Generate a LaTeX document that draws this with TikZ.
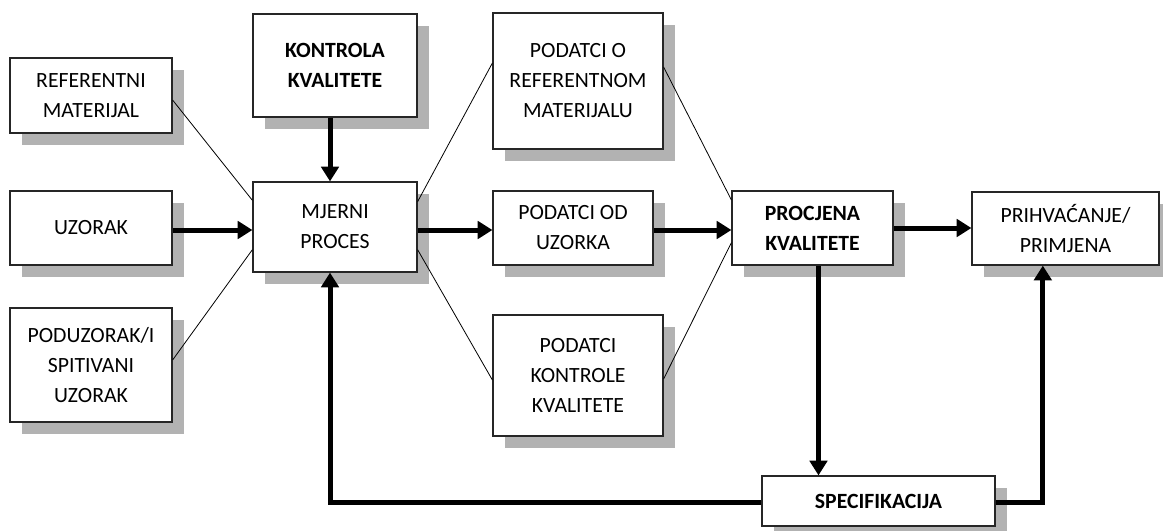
\documentclass[tikz,border=0pt]{standalone}
\usepackage{fontspec}
\setmainfont{Carlito}
\usetikzlibrary{arrows.meta,shadows}
\newcommand\boxfont{\fontsize{16.3}{22.5}\selectfont}
\begin{document}
\begin{tikzpicture}[x=.75pt, y=-.75pt, font=\boxfont,
	box/.style={draw=black!85, line width=.9pt, fill=white, align=center, inner sep=0pt,
		drop shadow={shadow xshift=9pt, shadow yshift=-9pt, fill=gray!60, opacity=1}},
	boldbox/.style={box, font=\boxfont\bfseries},
	flow/.style={line width=3.75pt, -{Triangle[length=11pt,width=13pt]}},
	link/.style={line width=.6pt}]
	\useasboundingbox (0,0) rectangle (1163,531);
	%inputs
	\node[box, minimum width=121.5pt, minimum height=56.25pt] (ref) at (91,95.5) {REFERENTNI\\MATERIJAL};
	\node[box, minimum width=121.5pt, minimum height=55.5pt] (uz) at (91,228) {UZORAK};
	\node[box, minimum width=121.5pt, minimum height=85.5pt] (poduz) at (91,365) {PODUZORAK/I\\SPITIVANI\\UZORAK};
	%process
	\node[boldbox, minimum width=123pt, minimum height=77.25pt] (kontr) at (335,65.5) {KONTROLA\\KVALITETE};
	\node[box, minimum width=123pt, minimum height=67.5pt] (mjer) at (335,227) {MJERNI\\PROCES};
	%data
	\node[box, minimum width=127.5pt, minimum height=102pt] (pref) at (578,81) {PODATCI O\\REFERENTNOM\\MATERIJALU};
	\node[box, minimum width=120pt, minimum height=55.5pt] (pod) at (573,228) {PODATCI OD\\UZORKA};
	\node[box, minimum width=127.5pt, minimum height=90.75pt] (pkon) at (578,375.5) {PODATCI\\KONTROLE\\KVALITETE};
	%evaluation
	\node[boldbox, minimum width=120.75pt, minimum height=55.5pt] (proc) at (812.5,228) {PROCJENA\\KVALITETE};
	\node[box, minimum width=140.25pt, minimum height=54.75pt] (prih) at (1065.5,228.5) {PRIHVAĆANJE/\\PRIMJENA};
	\node[boldbox, minimum width=174.75pt, minimum height=37.5pt] (spec) at (878.5,501) {SPECIFIKACIJA};
	%thin links
	\draw[link] ([yshift=-3.4pt]ref.east) -- ([yshift=20pt]mjer.west);
	\draw[link] ([yshift=3.75pt]poduz.east) -- ([yshift=-17pt]mjer.west);
	\draw[link] ([yshift=19pt]mjer.east) -- ([yshift=13.5pt]pref.west);
	\draw[link] ([yshift=-17pt]mjer.east) -- ([yshift=-3.4pt]pkon.west);
	\draw[link] ([yshift=10.5pt]pref.east) -- ([yshift=21pt]proc.west);
	\draw[link] ([yshift=-2.6pt]pkon.east) -- ([yshift=-11pt]proc.west);
	%main flow
	\draw[flow] ([yshift=-1.5pt]uz.east) -- ([yshift=-1.5pt]uz.east -| mjer.west);
	\draw[flow] ([yshift=-2.25pt]mjer.east) -- ([yshift=-2.25pt]mjer.east -| pod.west);
	\draw[flow] ([yshift=-1.5pt]pod.east) -- ([yshift=-1.5pt]pod.east -| proc.west);
	\draw[flow] (proc.east) -- (proc.east -| prih.west);
	\draw[flow] ([xshift=-3.75pt]kontr.south) -- ([xshift=-3.75pt]mjer.north);
	\draw[flow] ([xshift=4.5pt]proc.south) -- ([xshift=4.5pt]proc.south |- spec.north);
	%feedback
	\draw[flow] ([yshift=-.75pt]spec.west) -| ([xshift=-3.75pt]mjer.south);
	\draw[flow] ([yshift=-.75pt]spec.east) -| ([xshift=-17pt]prih.south);
\end{tikzpicture}
\end{document}
